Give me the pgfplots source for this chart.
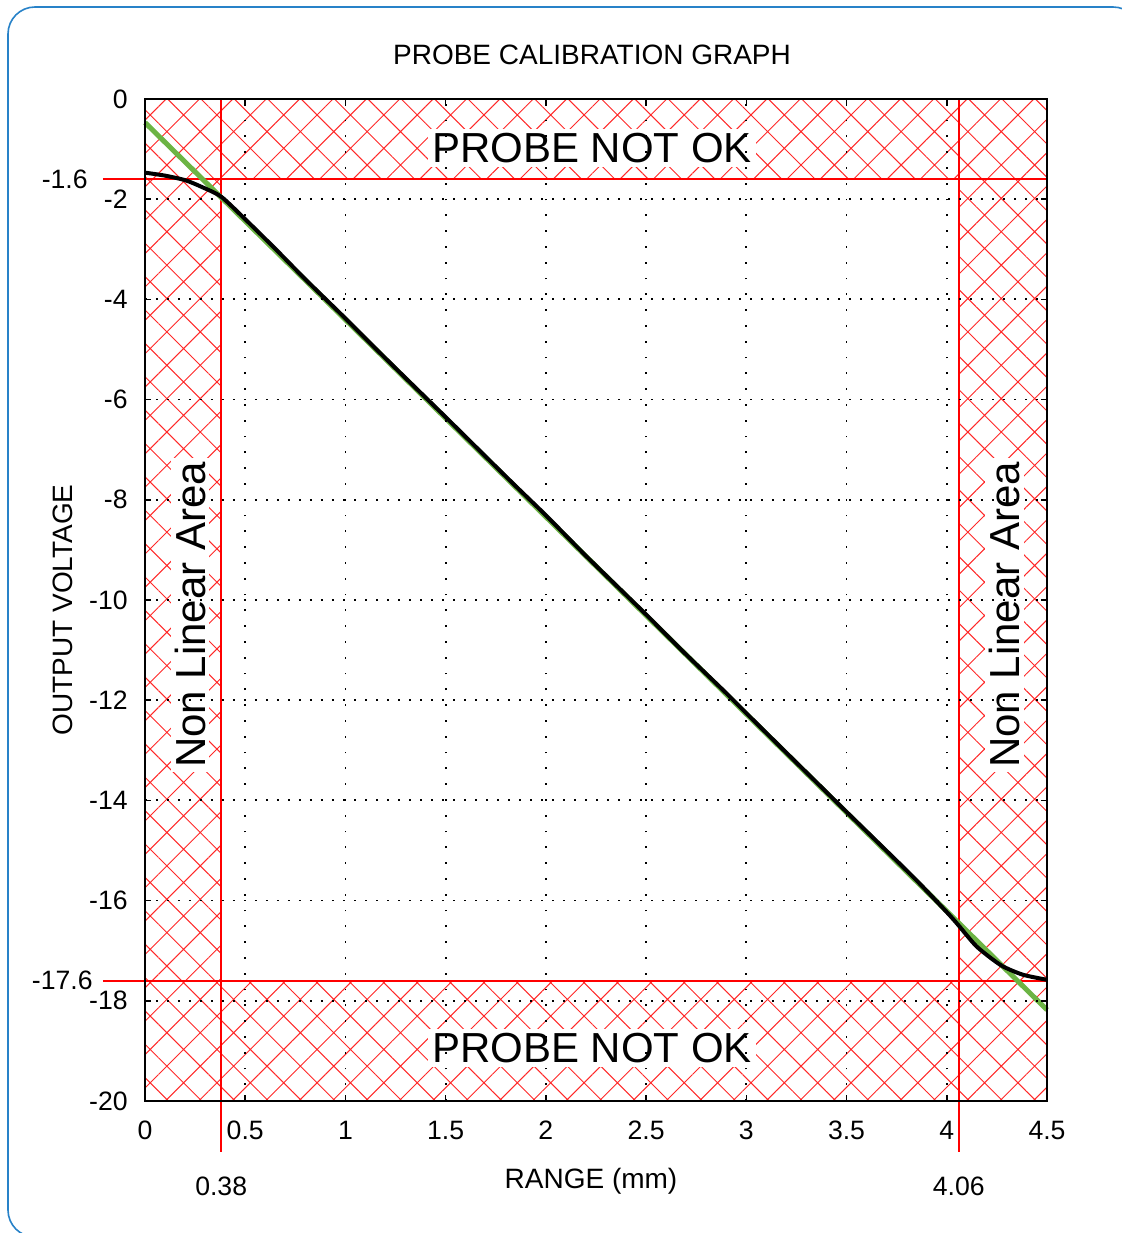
\documentclass[border=0pt]{standalone}
\usepackage{fontspec}
\setmainfont{Liberation Sans}
\usepackage{pgfplots}
\pgfplotsset{compat=1.18}
\usetikzlibrary{patterns.meta}
\definecolor{framecol}{RGB}{40,130,200}
\definecolor{fitgreen}{RGB}{108,180,68}
\definecolor{hatchred}{RGB}{255,40,40}
\begin{document}
\begin{tikzpicture}
\useasboundingbox (-72.5pt,-66pt) rectangle (488.5pt,550.5pt);
\begin{axis}[
  scale only axis, width=451pt, height=501pt,
  xmin=0, xmax=4.5, ymin=-20, ymax=0,
  xtick={0,0.5,1,1.5,2,2.5,3,3.5,4,4.5},
  xticklabels={0,0.5,1,1.5,2,2.5,3,3.5,4,4.5},
  ytick={-20,-18,-16,-14,-12,-10,-8,-6,-4,-2,0},
  yticklabels={-20,-18,-16,-14,-12,-10,-8,-6,-4,-2,0},
  grid=major, axis on top, clip=false,
  tick align=inside, major tick length=3pt,
  tick style={black, line width=0.8pt},
  axis line style={black, line width=1pt},
  x grid style={black, line width=0.9pt, dash pattern=on 0.9pt off 7pt},
  y grid style={black, line width=0.9pt, dash pattern=on 0.9pt off 4.6pt},
  xticklabel style={font=\fontsize{13.3}{15}\selectfont, anchor=center, inner sep=0pt, yshift=-14.5pt},
  yticklabel style={font=\fontsize{13.3}{15}\selectfont, anchor=east, inner sep=0pt, xshift=-8.5pt},
]
% hatched non-valid zones
\fill[pattern={Hatch[angle=45, distance=11.8pt, line width=0.5pt]}, pattern color=hatchred, even odd rule]
  (axis cs:0,-20) rectangle (axis cs:4.5,0)
  (axis cs:0.38,-17.6) rectangle (axis cs:4.06,-1.6);
% limit lines
\draw[red, line width=1pt] (axis cs:-0.21,-1.6) -- (axis cs:4.5,-1.6);
\draw[red, line width=1pt] (axis cs:-0.21,-17.6) -- (axis cs:4.5,-17.6);
\draw[red, line width=1pt] (axis cs:0.38,0) -- (axis cs:0.38,-21.02);
\draw[red, line width=1pt] (axis cs:4.06,0) -- (axis cs:4.06,-21.02);
% zone labels
\node[fill=white, inner sep=2pt, font=\fontsize{21}{24}\selectfont] at (axis cs:2.23,-0.98) {PROBE NOT OK};
\node[fill=white, inner sep=2pt, font=\fontsize{21}{24}\selectfont] at (axis cs:2.23,-18.94) {PROBE NOT OK};
\node[fill=white, inner sep=2pt, rotate=90, font=\fontsize{21}{24}\selectfont] at (axis cs:0.2245,-10.3) {Non Linear Area};
\node[fill=white, inner sep=2pt, rotate=90, font=\fontsize{21}{24}\selectfont] at (axis cs:4.29,-10.3) {Non Linear Area};
% linear fit
\addplot[fitgreen, line width=2.5pt] coordinates {(0,-0.47) (4.5,-18.18)};
% calibration curve
\addplot[black, line width=2pt, smooth, tension=0.4] coordinates {
 (0,-1.47) (0.1,-1.53) (0.2,-1.62) (0.28,-1.75) (0.38,-1.95)
 (0.5,-2.40) (0.65,-2.99) (0.8,-3.60) (1.0,-4.38) (1.15,-4.98)
 (1.3,-5.57) (1.5,-6.35) (1.7,-7.14) (1.85,-7.73) (2.0,-8.31)
 (2.2,-9.12) (2.4,-9.90) (2.5,-10.29) (2.7,-11.09) (2.9,-11.86)
 (3.0,-12.26) (3.2,-13.05) (3.35,-13.64) (3.5,-14.23) (3.7,-15.01)
 (3.85,-15.60) (4.0,-16.23) (4.06,-16.50) (4.15,-16.92) (4.27,-17.29)
 (4.38,-17.48) (4.5,-17.58)};
% extra limit labels
\node[anchor=east, inner sep=0pt, xshift=-28.5pt, font=\fontsize{13.3}{15}\selectfont] at (axis cs:0,-1.6) {-1.6};
\node[anchor=east, inner sep=0pt, xshift=-26pt, font=\fontsize{13.3}{15}\selectfont] at (axis cs:0,-17.6) {-17.6};
\node[inner sep=0pt, yshift=-42.5pt, font=\fontsize{13.3}{15}\selectfont] at (axis cs:0.38,-20) {0.38};
\node[inner sep=0pt, yshift=-42.5pt, font=\fontsize{13.3}{15}\selectfont] at (axis cs:4.06,-20) {4.06};
\end{axis}
\node[font=\fontsize{14}{16}\selectfont] at (223.5pt,523pt) {PROBE CALIBRATION GRAPH};
\node[font=\fontsize{14}{16}\selectfont] at (223pt,-40pt) {RANGE (mm)};
\node[rotate=90, font=\fontsize{14}{16}\selectfont] at (-41pt,245.5pt) {OUTPUT VOLTAGE};
\draw[framecol, line width=0.8pt, rounded corners=13.5pt] (-68.5pt,-68pt) rectangle (497.5pt,547pt);
\end{tikzpicture}
\end{document}
